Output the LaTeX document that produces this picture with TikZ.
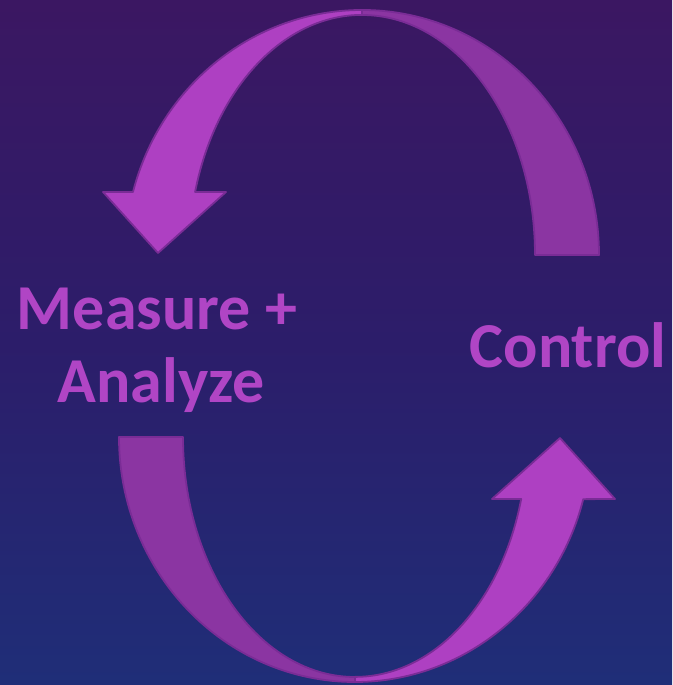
\documentclass[tikz,border=0pt]{standalone}
\usepackage{fontspec}
\setmainfont{Carlito}
\definecolor{bgtop}{HTML}{3B1762}
\definecolor{bgmid}{HTML}{2C1D6A}
\definecolor{bgbot}{HTML}{1F2E78}
\definecolor{lightband}{HTML}{AE40C2}
\definecolor{darkband}{HTML}{8B35A2}
\definecolor{edge}{HTML}{7A2C96}
\definecolor{labelcol}{HTML}{B045C5}
\tikzset{
  bandlight/.style={fill=lightband, draw=edge, line width=1.8pt, line join=round},
  banddark/.style={fill=darkband, draw=edge, line width=1.8pt, line join=round},
  label/.style={text=labelcol, font=\fontsize{64}{70}\selectfont\bfseries, inner sep=0pt}
}
\begin{document}
\begin{tikzpicture}[x=1pt,y=1pt]
\useasboundingbox (0,0) rectangle (672,685);
\shade[top color=bgtop, bottom color=bgbot, middle color=bgmid] (0,0) rectangle (672,685);
% top arrow (centre 362,430)
\draw[banddark] (599,430) arc[start angle=0, end angle=90, x radius=237, y radius=245]
  -- (362,670) arc[start angle=90, end angle=0, x radius=173, y radius=240] -- cycle;
\draw[bandlight] (362,675) arc[start angle=90, end angle=165.1, x radius=237, y radius=245]
  -- (103,493) -- (158,432) -- (226,493) -- (195.1,493)
  arc[start angle=164.8, end angle=90, x radius=173, y radius=240] -- cycle;
% bottom arrow (centre 355,248)
\draw[banddark] (119,248) arc[start angle=180, end angle=270, x radius=236, y radius=245]
  -- (355,8) arc[start angle=270, end angle=180, x radius=172, y radius=240] -- cycle;
\draw[bandlight] (355,3) arc[start angle=270, end angle=345.3, x radius=236, y radius=245]
  -- (615,186) -- (560,247) -- (492,186) -- (521.2,186)
  arc[start angle=345.0, end angle=270, x radius=172, y radius=240] -- cycle;
% labels
\node[label, anchor=base] (measure) at (157,355) {Measure +};
\node[label, anchor=base] (analyze) at (161,282) {Analyze};
\node[label, anchor=base] (control) at (568,317) {Control};
\end{tikzpicture}
\end{document}
